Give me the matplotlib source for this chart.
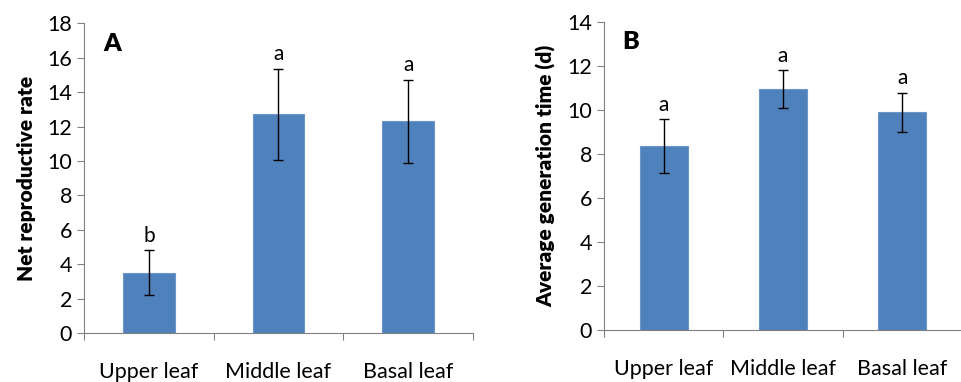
import numpy as np
import matplotlib.pyplot as plt

plt.rcParams['font.family'] = ['Lato', 'DejaVu Sans']

categories = ["Upper leaf", "Middle leaf", "Basal leaf"]
net_rate = [3.5, 12.7, 12.3]
net_err = [1.3, 2.65, 2.4]
net_letters = ["b", "a", "a"]
gen_time = [8.35, 10.95, 9.88]
gen_err = [1.22, 0.85, 0.9]
gen_letters = ["a", "a", "a"]

fig = plt.figure(figsize=(9.62, 3.82), dpi=100)
ax1 = fig.add_axes([0.0873, 0.1283, 0.4044, 0.8107])
ax2 = fig.add_axes([0.6279, 0.1361, 0.372, 0.807])

def panel(ax, vals, errs, letters, ymax, ylabel, tag):
    x = np.arange(len(categories))
    ax.bar(x, vals, width=0.4, color="#4F81BD", edgecolor="#6D95C8", linewidth=0.8, zorder=2)
    ax.errorbar(x, vals, yerr=errs, fmt="none", ecolor="black", elinewidth=1, capsize=3.5, capthick=1, zorder=3)
    for xi, v, e, t in zip(x, vals, errs, letters):
        ax.text(xi, v + e + ymax * 0.015, t, ha="center", va="bottom", fontsize=15)
    ax.set_xlim(-0.5, len(categories) - 0.5)
    ax.set_ylim(0, ymax)
    ax.set_yticks(np.arange(0, ymax + 1, 2))
    ax.set_xticks(np.arange(-0.5, len(categories), 1.0))
    ax.set_xticklabels([])
    ax.set_xticks(x, minor=True)
    ax.set_xticklabels(categories, minor=True)
    ax.tick_params(axis="x", which="minor", length=0, pad=21, labelsize=15.5)
    ax.tick_params(axis="x", which="major", length=5, direction="out", color="#808080")
    ax.tick_params(axis="y", length=5, direction="out", color="#808080", labelsize=15.5)
    for s in ["top", "right"]:
        ax.spines[s].set_visible(False)
    for s in ["left", "bottom"]:
        ax.spines[s].set_color("#808080")
    ax.set_ylabel(ylabel, fontsize=15, fontweight="heavy", labelpad=8)
    ax.text(0.05, 0.97, tag, transform=ax.transAxes, fontsize=18, fontweight="heavy", va="top")

panel(ax1, net_rate, net_err, net_letters, 18, "Net reproductive rate", "A")
panel(ax2, gen_time, gen_err, gen_letters, 14, "Average generation time (d)", "B")

fig.savefig("out.png", dpi=100)
